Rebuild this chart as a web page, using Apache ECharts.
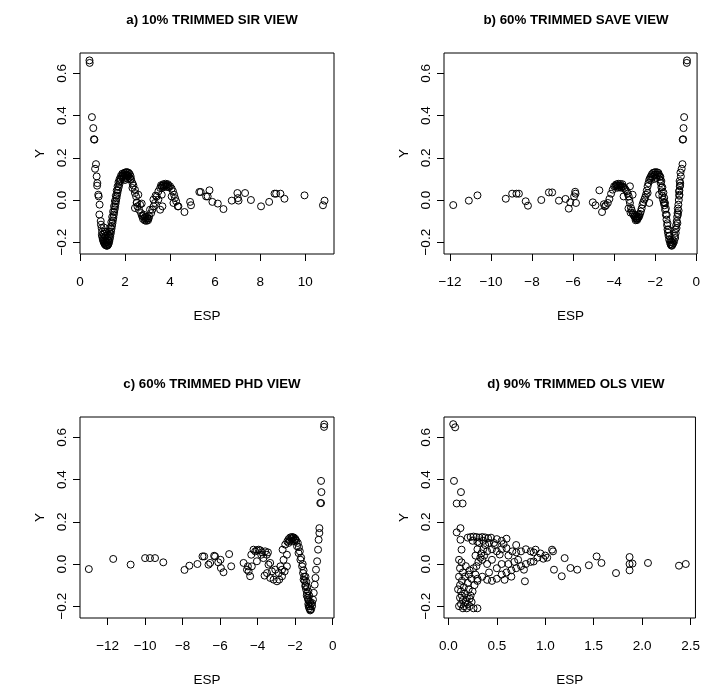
<!DOCTYPE html>
<html><head><meta charset="utf-8">
<script src="https://cdn.jsdelivr.net/npm/echarts@6/dist/echarts.min.js"></script>
<style>html,body{margin:0;padding:0;background:#fff}#c{width:703px;height:692px}</style>
</head><body><div id="c"></div>
<script>
const titles = ['a) 10% TRIMMED SIR VIEW','b) 60% TRIMMED SAVE VIEW','c) 60% TRIMMED PHD VIEW','d) 90% TRIMMED OLS VIEW'];
const xLabel = 'ESP';
const yLabel = 'Y';
const yTicks = [-0.2,0,0.2,0.4,0.6];
const sirTicks = [0,2,4,6,8,10];
const saveTicks = [-12,-10,-8,-6,-4,-2,0];
const phdTicks = [-12,-10,-8,-6,-4,-2,0];
const olsTicks = [0,0.5,1,1.5,2,2.5];

const sirPts = [
[0.42,0.662],[0.43,0.650],[0.53,0.393],[0.59,0.341],[0.62,0.288],[0.64,0.286],[0.71,0.170],[0.67,0.148],[0.74,0.112],[0.77,0.080],[0.76,0.068],[0.81,0.025],[0.83,0.017],[0.87,-0.022],[0.86,-0.069],[0.92,-0.100],[0.93,-0.117],[0.96,-0.133],[0.98,-0.15],[0.97,-0.165],
[0.99,-0.175],[1.01,-0.185],[1.03,-0.192],[1.05,-0.198],[1.07,-0.203],[1.09,-0.207],[1.11,-0.211],[1.14,-0.214],[1.17,-0.216],[1.2,-0.217],[1.23,-0.215],[1.26,-0.21],[1.28,-0.203],[1.3,-0.195],[1.32,-0.185],[1.34,-0.173],[1.36,-0.161],[1.38,-0.149],[1.4,-0.136],[1.42,-0.123],[1.44,-0.11],[1.46,-0.097],[1.48,-0.084],[1.5,-0.07],[1.52,-0.057],[1.54,-0.044],[1.56,-0.031],[1.58,-0.018],[1.6,-0.005],[1.62,0.008],[1.64,0.021],[1.66,0.033],[1.69,0.047],[1.72,0.061],[1.75,0.075],[1.78,0.088],[1.81,0.099],[1.85,0.109],[1.89,0.117],[1.93,0.123],[1.97,0.128],[2.02,0.131],[2.07,0.132],[2.12,0.131],[2.17,0.128],[2.21,0.122],[2.25,0.112],
[1.04,-0.16],[1.08,-0.18],[1.12,-0.195],[1.16,-0.2],[1.21,-0.2],[1.25,-0.19],[1.29,-0.17],[1.13,-0.17],[1.19,-0.18],[1.24,-0.165],[1.31,-0.15],[1.35,-0.13],[1.39,-0.105],[1.43,-0.08],[1.47,-0.055],[1.51,-0.03],[1.55,-0.005],[1.59,0.02],[1.63,0.045],[1.67,0.065],[1.71,0.085],[1.76,0.1],[1.82,0.115],[1.88,0.125],[1.95,0.112],[2.0,0.118],[2.05,0.12],[2.1,0.118],[2.15,0.115],[2.2,0.105],[2.05,0.105],[2.12,0.1],[2.25,0.1],[1.92,0.1],[2.0,0.095],[1.1,-0.15],[1.06,-0.13],[1.2,-0.15],
[2.27,0.096],[2.33,0.08],[2.37,0.069],[2.44,0.049],[2.49,0.017],[2.52,-0.011],[2.55,-0.03],[2.62,-0.046],[2.71,-0.062],[2.79,-0.077],[2.86,-0.085],[2.93,-0.09],[3.01,-0.088],[3.07,-0.077],[3.16,-0.062],[3.21,-0.046],[3.27,-0.03],[3.33,-0.014],[3.41,0.017],[3.48,0.041],[3.56,0.057],[3.63,0.065],[3.70,0.069],[3.78,0.071],[3.85,0.071],[3.93,0.069],[4.0,0.065],[4.07,0.054],[4.13,0.041],[4.18,0.025],[4.22,0.009],[4.27,-0.006],[4.34,-0.03],
[2.52,-0.014],[2.67,-0.022],[2.74,-0.017],[2.44,-0.038],[3.11,-0.046],[3.26,0.002],[3.36,0.021],[3.48,0.002],[3.56,-0.046],[3.66,-0.03],[3.63,0.025],[4.07,0.017],[4.15,-0.014],[4.37,-0.03],[2.44,0.033],[2.33,0.057],[2.59,0.025],
[2.8,-0.09],[2.88,-0.097],[2.95,-0.099],[3.02,-0.096],[2.9,-0.08],[2.98,-0.08],[3.05,-0.087],[2.75,-0.075],[2.83,-0.07],
[3.6,0.07],[3.7,0.075],[3.8,0.077],[3.9,0.075],[3.75,0.062],[3.85,0.063],[3.95,0.06],[3.65,0.058],
[4.64,-0.057],[4.89,-0.009],[4.93,-0.025],[5.30,0.038],[5.36,0.038],[5.60,0.017],[5.75,0.046],[5.67,0.017],[5.88,-0.009],[6.12,-0.017],[6.37,-0.043],[6.74,-0.003],[6.99,0.033],[7.04,-0.003],[7.01,0.009],[7.33,0.033],[7.59,0.0],[8.04,-0.03],[8.40,-0.009],[8.64,0.030],[8.71,0.030],[8.90,0.030],[9.08,0.006],[9.97,0.022],[10.79,-0.025],[10.86,-0.003]
];

const savePts = [
[-0.45,0.662],[-0.46,0.650],[-0.59,0.393],[-0.62,0.341],[-0.64,0.288],[-0.66,0.286],[-0.67,0.17],[-0.71,0.148],[-0.75,0.112],[-0.78,0.08],[-0.80,0.065],[-0.79,0.068],[-0.83,0.02],[-0.82,0.025],[-0.87,-0.022],[-0.91,-0.062],[-0.89,-0.069],[-0.95,-0.10],[-0.96,-0.133],[-1.0,-0.156],[-1.03,-0.18],[-1.08,-0.196],
[-0.93,-0.08],[-0.9,-0.04],[-0.85,0.0],[-0.84,0.04],[-0.81,0.09],[-0.77,0.13],[-0.98,-0.12],[-1.01,-0.14],[-1.05,-0.17],[-0.92,-0.11],[-0.86,-0.05],[-0.82,0.045],
[-1.12,-0.205],[-1.16,-0.212],[-1.19,-0.217],[-1.22,-0.215],[-1.25,-0.21],[-1.28,-0.2],[-1.32,-0.188],[-1.35,-0.17],[-1.38,-0.155],[-1.4,-0.14],[-1.42,-0.12],[-1.45,-0.093],[-1.48,-0.07],[-1.52,-0.046],[-1.55,-0.025],[-1.58,-0.01],[-1.62,0.002],[-1.65,0.02],[-1.68,0.041],[-1.70,0.06],[-1.73,0.08],[-1.76,0.097],[-1.78,0.112],[-1.84,0.128],[-1.9,0.131],[-1.97,0.132],[-2.04,0.131],[-2.1,0.129],[-2.16,0.122],[-2.21,0.112],[-2.25,0.104],[-2.29,0.096],[-2.33,0.08],[-2.37,0.065],[-2.41,0.045],[-2.45,0.025],[-2.49,0.012],[-2.53,0.002],[-2.58,-0.01],[-2.62,-0.022],[-2.66,-0.04],[-2.70,-0.054],[-2.74,-0.066],[-2.78,-0.077],[-2.82,-0.084],[-2.86,-0.088],[-2.9,-0.09],[-2.94,-0.088],[-2.98,-0.083],[-3.02,-0.077],[-3.06,-0.07],[-3.10,-0.062],[-3.14,-0.05],[-3.18,-0.038],[-3.23,-0.014],[-3.26,0.0],[-3.29,0.017],[-3.34,0.03],[-3.39,0.041],[-3.45,0.05],[-3.5,0.057],[-3.56,0.062],[-3.62,0.065],[-3.68,0.067],[-3.75,0.068],[-3.82,0.068],[-3.88,0.068],[-3.94,0.066],[-4.0,0.065],[-4.07,0.049],[-4.15,0.03],[-4.23,0.005],[-4.31,-0.014],[-4.4,-0.025],
[-1.2,-0.2],[-1.25,-0.19],[-1.3,-0.17],[-1.15,-0.19],[-1.35,-0.14],[-1.4,-0.11],[-1.44,-0.07],[-1.48,-0.04],[-1.52,-0.015],[-1.56,0.01],[-1.6,0.035],[-1.65,0.06],[-1.7,0.09],[-1.75,0.11],[-1.82,0.118],[-1.9,0.12],[-1.98,0.12],[-2.05,0.118],[-2.12,0.11],[-2.2,0.095],[-1.95,0.105],[-2.03,0.1],
[-2.8,-0.07],[-2.85,-0.078],[-2.92,-0.078],[-2.98,-0.07],[-2.88,-0.095],[-2.95,-0.096],
[-3.6,0.075],[-3.7,0.076],[-3.8,0.077],[-3.9,0.074],[-3.65,0.058],[-3.75,0.06],[-3.85,0.058],
[-3.23,0.065],[-3.10,0.025],[-3.54,0.017],[-2.29,-0.014],[-2.37,0.033],[-1.81,0.025],[-1.57,-0.014],[-3.3,-0.04],[-3.2,-0.06],[-4.45,-0.03],[-4.5,-0.02],
[-11.84,-0.024],[-11.08,-0.003],[-10.66,0.022],[-9.28,0.006],[-8.97,0.03],[-8.76,0.03],[-8.64,0.03],[-8.31,-0.006],[-8.2,-0.027],[-7.55,0.0],[-7.18,0.036],[-7.02,0.036],[-6.69,-0.003],[-6.37,0.005],[-6.21,-0.041],[-6.14,-0.011],[-5.95,0.017],[-5.9,0.039],[-5.88,0.03],[-5.86,-0.014],[-5.04,-0.011],[-4.91,-0.025],[-4.72,0.046],[-4.59,-0.057]
];

const phdPts = [
[-13.0,-0.024],[-11.70,0.024],[-10.77,-0.003],[-10.0,0.028],[-9.74,0.028],[-9.47,0.028],[-9.03,0.008],[-7.90,-0.028],[-7.64,-0.008],[-7.21,0.0],[-6.94,0.036],[-6.85,0.036],[-6.62,-0.003],[-6.53,0.005],[-6.32,0.039],[-6.27,0.036],[-6.1,0.008],[-5.98,0.02],[-5.96,-0.019],[-5.82,-0.039],[-5.52,0.047],[-5.41,-0.011],
[-4.75,0.005],[-4.57,-0.027],[-4.52,-0.011],[-4.48,-0.035],[-4.40,-0.058],[-4.34,0.044],[-4.22,0.068],[-4.13,0.06],[-4.04,0.065],[-3.95,0.068],[-3.86,0.065],[-3.77,0.055],[-3.6,0.06],[-3.45,0.055],
[-3.42,-0.003],[-3.63,-0.055],[-3.5,-0.043],[-3.33,-0.066],[-3.15,-0.074],[-2.97,-0.082],[-2.85,-0.074],[-2.70,-0.058],[-2.56,-0.035],[-2.44,-0.011],
[-2.67,0.068],[-2.53,0.092],[-2.42,0.107],[-2.35,0.118],[-2.26,0.126],[-2.17,0.128],[-2.08,0.126],[-1.99,0.115],[-1.90,0.084],[-1.82,0.052],[-1.72,0.02],[-1.63,-0.011],[-1.58,-0.043],[-1.55,-0.074],[-1.46,-0.106],[-1.37,-0.137],[-1.31,-0.169],[-1.28,-0.2],
[-1.19,-0.216],[-1.10,-0.2],[-1.05,-0.169],[-1.01,-0.137],[-0.96,-0.098],[-0.92,-0.066],[-0.89,-0.027],[-0.83,0.013],[-0.78,0.068],[-0.75,0.115],[-0.71,0.147],[-0.71,0.17],[-0.62,0.289],[-0.66,0.289],[-0.60,0.341],[-0.62,0.394],[-0.45,0.662],[-0.46,0.650],
[-3.81,0.044],[-3.69,0.028],[-4.04,0.013],[-4.31,-0.011],[-3.24,-0.035],[-3.06,-0.027],[-2.88,-0.043],[-2.79,-0.011],[-2.70,-0.027],[-2.62,0.02],[-3.33,0.005],[-3.51,0.044],[-2.44,0.044],
[-1.25,-0.21],[-1.2,-0.22],[-1.15,-0.215],[-1.3,-0.19],[-1.22,-0.2],[-1.17,-0.19],[-1.27,-0.175],[-1.33,-0.16],[-1.38,-0.15],[-1.42,-0.12],[-1.45,-0.1],[-1.5,-0.08],[-1.52,-0.06],[-1.2,-0.18],[-1.1,-0.185],[-1.25,-0.15],[-1.3,-0.13],[-1.36,-0.11],[-1.4,-0.085],[-1.45,-0.06],[-1.55,-0.03],[-1.6,0.0],[-1.68,0.03],[-1.75,0.06],[-1.8,0.08],[-1.86,0.1],[-1.94,0.11],[-2.0,0.12],[-2.12,0.125],[-2.2,0.12],[-2.3,0.11],[-2.35,0.1],[-2.05,0.11],[-2.15,0.108]
];

const olsPts = [
[0.05,0.663],[0.07,0.648],[0.058,0.394],[0.13,0.341],[0.086,0.287],[0.147,0.287],[0.125,0.17],[0.086,0.15],[0.125,0.115],[0.136,0.068],[0.11,0.02],[0.136,0.008],
[0.12,-0.02],[0.15,-0.04],[0.11,-0.06],[0.14,-0.08],[0.17,-0.06],[0.12,-0.1],[0.16,-0.11],[0.2,-0.09],[0.13,-0.13],[0.17,-0.14],[0.21,-0.12],[0.12,-0.16],[0.15,-0.17],[0.19,-0.16],[0.23,-0.15],[0.13,-0.19],[0.16,-0.2],[0.2,-0.19],[0.24,-0.18],[0.15,-0.21],[0.19,-0.21],[0.22,-0.2],[0.26,-0.21],[0.3,-0.21],[0.25,-0.13],[0.27,-0.1],[0.24,-0.07],[0.28,-0.05],[0.22,-0.03],[0.18,-0.01],[0.26,-0.02],[0.3,-0.08],[0.21,-0.05],[0.18,-0.18],[0.22,-0.165],[0.14,-0.15],[0.1,-0.12],[0.11,-0.2],
[0.2,0.125],[0.23,0.128],[0.26,0.13],[0.29,0.128],[0.32,0.125],[0.35,0.128],[0.38,0.126],[0.41,0.122],[0.44,0.125],[0.5,0.118],[0.55,0.11],[0.6,0.12],[0.25,0.11],[0.3,0.105],[0.36,0.11],[0.42,0.1],[0.47,0.1],
[0.38,0.09],[0.36,0.07],[0.34,0.05],[0.33,0.03],[0.31,0.01],[0.29,-0.01],[0.4,0.06],[0.37,0.04],[0.35,0.02],[0.28,0.04],[0.3,0.07],[0.32,0.1],
[0.45,0.07],[0.5,0.06],[0.55,0.07],[0.6,0.075],[0.66,0.06],[0.7,0.055],[0.75,0.06],[0.8,0.07],[0.85,0.06],[0.88,0.055],[0.9,0.068],[0.95,0.05],[1.0,0.04],[1.07,0.068],[1.08,0.06],[0.92,0.03],[0.88,0.012],[0.98,0.025],[1.02,0.03],[0.62,0.04],[0.53,0.045],[0.48,0.09],[0.57,0.095],[0.7,0.09],
[0.3,-0.07],[0.35,-0.06],[0.4,-0.075],[0.45,-0.08],[0.5,-0.07],[0.55,-0.05],[0.6,-0.04],[0.65,-0.03],[0.7,-0.02],[0.75,-0.01],[0.8,0.0],[0.85,0.01],[0.78,-0.027],[0.79,-0.082],[0.65,-0.06],[0.58,-0.075],[0.42,-0.04],[0.5,-0.02],[0.55,0.0],[0.62,0.0],[0.68,0.01],[0.72,0.02],[0.4,0.0],[0.45,0.02],
[1.09,-0.027],[1.2,0.028],[1.17,-0.058],[1.26,-0.019],[1.33,-0.027],[1.45,-0.006],[1.53,0.036],[1.58,0.005],[1.73,-0.043],[1.87,0.033],[1.87,0.0],[1.87,-0.03],[1.9,0.002],[2.06,0.005],[2.38,-0.008],[2.45,0.0]
];

const panels = [
  {pts: sirPts, ticks: sirTicks, min: 0.0, max: 11.28, dec: 0},
  {pts: savePts, ticks: saveTicks, min: -12.29, max: 0.04, dec: 0},
  {pts: phdPts, ticks: phdTicks, min: -13.47, max: 0.07, dec: 0},
  {pts: olsPts, ticks: olsTicks, min: -0.045, max: 2.55, dec: 1}
];
const gridPos = [
  {left: 80, top: 53, width: 254, height: 201},
  {left: 444, top: 53, width: 254, height: 201},
  {left: 80, top: 417, width: 254, height: 201},
  {left: 444, top: 417, width: 254, height: 201}
];
const FONT = 'Liberation Sans, Arial, Helvetica, sans-serif';
const fmt = dec => v => (v < 0 ? '\u2212' : '') + Math.abs(v).toFixed(dec);

const chart = echarts.init(document.getElementById('c'), null, {renderer: 'canvas'});
const option = {
  animation: false,
  backgroundColor: '#fff',
  title: panels.map((p, i) => ({
    text: titles[i],
    left: gridPos[i].left + gridPos[i].width / 2,
    top: gridPos[i].top - 44,
    textAlign: 'center',
    textStyle: {fontFamily: FONT, fontSize: 13.3, fontWeight: 'bold', color: '#000'}
  })),
  grid: gridPos.map(g => Object.assign({show: true, borderColor: '#000', borderWidth: 1, backgroundColor: 'transparent'}, g)),
  xAxis: panels.map((p, i) => ({
    gridIndex: i, type: 'value', min: p.min, max: p.max, position: 'bottom',
    axisLine: {show: false, onZero: false},
    splitLine: {show: false},
    axisTick: {show: true, inside: false, length: 7, lineStyle: {color: '#000', width: 1}, customValues: p.ticks},
    axisLabel: {customValues: p.ticks, formatter: fmt(p.dec), margin: 21, color: '#000', fontSize: 13.5, fontFamily: FONT},
    name: xLabel, nameLocation: 'middle', nameGap: 55,
    nameTextStyle: {fontFamily: FONT, fontSize: 13.5, color: '#000'}
  })),
  yAxis: panels.map((p, i) => ({
    gridIndex: i, type: 'value', min: -0.256, max: 0.697, position: 'left',
    axisLine: {show: false, onZero: false},
    splitLine: {show: false},
    axisTick: {show: true, inside: false, length: 7, lineStyle: {color: '#000', width: 1}, customValues: yTicks},
    axisLabel: {customValues: yTicks, formatter: fmt(1), rotate: 90, margin: 11, color: '#000', fontSize: 13.5, fontFamily: FONT},
    name: yLabel, nameLocation: 'middle', nameGap: 33, nameRotate: 90,
    nameTextStyle: {fontFamily: FONT, fontSize: 13.5, color: '#000'}
  })),
  series: panels.map((p, i) => ({
    type: 'scatter', xAxisIndex: i, yAxisIndex: i, data: p.pts,
    symbol: 'circle', symbolSize: 7, silent: true,
    itemStyle: {color: 'rgba(0,0,0,0)', borderColor: '#000', borderWidth: 1, opacity: 1}
  }))
};
chart.setOption(option);
</script>
</body></html>
